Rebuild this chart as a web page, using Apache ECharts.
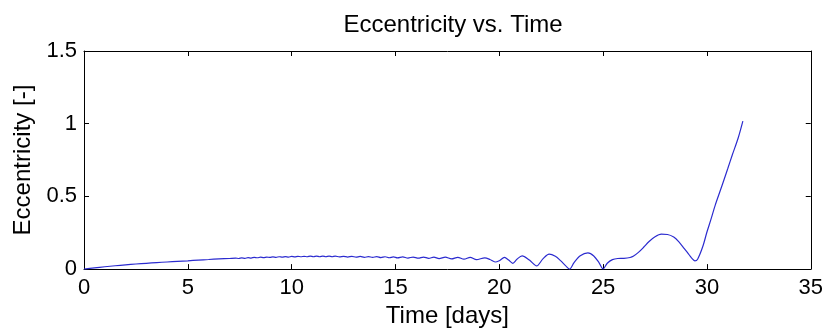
<!DOCTYPE html>
<html>
<head>
<meta charset="utf-8">
<script src="https://cdn.jsdelivr.net/npm/echarts@6/dist/echarts.min.js"></script>
<style>
  html, body { margin: 0; padding: 0; background: #fff; }
  #chart { width: 826px; height: 333px; }
</style>
</head>
<body>
<div id="chart"></div>
<script>
// values
const timeDays = [
  0, 0.5, 1, 1.5, 2, 2.5, 3, 3.5, 4, 4.5, 5, 5.5, 6, 6.5, 7,
  7.3, 7.45, 7.6, 7.75, 7.9, 8.05, 8.2, 8.35, 8.5, 8.65, 8.8, 8.95, 9.1, 9.25, 9.4, 9.55, 9.7, 9.85,
  10.0, 10.15, 10.3, 10.45, 10.6, 10.75, 10.9, 11.05, 11.2, 11.35, 11.5, 11.65, 11.8, 11.95,
  12.1, 12.3, 12.5, 12.7, 12.9, 13.1, 13.3, 13.5, 13.7, 13.9, 14.1, 14.3, 14.5, 14.7, 14.9,
  15.1, 15.35, 15.6, 15.85, 16.1, 16.35, 16.6, 16.85, 17.1, 17.4, 17.7, 18.0, 18.3, 18.6, 18.9,
  19.3, 19.55, 19.8, 20.0, 20.25, 20.45, 20.65, 20.85, 21.1, 21.45, 21.8, 22.1, 22.4, 22.7, 22.95,
  23.2, 23.38, 23.6, 23.9, 24.27, 24.55, 24.8, 25.0, 25.2, 25.45, 25.7, 26.0, 26.3, 26.45, 26.7,
  26.95, 27.2, 27.5, 27.8, 28.1, 28.4, 28.65, 28.9, 29.15, 29.3, 29.42, 29.55, 29.8, 30.0, 30.2,
  30.4, 30.74, 31.0, 31.22, 31.5, 31.73
];
const eccentricity = [
  0, 0.008, 0.016, 0.023, 0.029, 0.035, 0.040, 0.045, 0.049, 0.053, 0.057, 0.062, 0.066, 0.070, 0.073,
  0.076, 0.073, 0.077, 0.074, 0.079, 0.076, 0.081, 0.078, 0.082, 0.079, 0.083, 0.080, 0.084, 0.081, 0.085, 0.082, 0.086, 0.083,
  0.087, 0.084, 0.088, 0.085, 0.088, 0.085, 0.089, 0.085, 0.089, 0.085, 0.089, 0.085, 0.089, 0.085,
  0.089, 0.084, 0.088, 0.083, 0.088, 0.082, 0.087, 0.081, 0.086, 0.080, 0.086, 0.079, 0.085, 0.078, 0.084,
  0.077, 0.084, 0.076, 0.083, 0.075, 0.083, 0.074, 0.082, 0.072, 0.082, 0.070, 0.081, 0.068, 0.081, 0.065,
  0.077, 0.066, 0.049, 0.058, 0.080, 0.062, 0.040, 0.068, 0.091, 0.062, 0.022, 0.070, 0.103, 0.088, 0.058,
  0.022, 0.0, 0.045, 0.092, 0.111, 0.090, 0.045, 0.002, 0.040, 0.065, 0.073, 0.074, 0.080, 0.088, 0.115,
  0.150, 0.188, 0.222, 0.240, 0.238, 0.220, 0.187, 0.143, 0.097, 0.070, 0.057, 0.068, 0.155, 0.255, 0.345,
  0.440, 0.580, 0.690, 0.785, 0.900, 1.018
];
const xTicks = { min: 0, max: 35, step: 5 };
const yTicks = { min: 0, max: 1.5, step: 0.5 };

const FONT = '"Liberation Sans", Arial, sans-serif';

const axisBase = {
  type: 'value',
  axisLine: { show: true, onZero: false, lineStyle: { color: '#000', width: 1 } },
  axisTick: { show: true, inside: true, length: 5, lineStyle: { color: '#000' } },
  splitLine: { show: false },
};

const chart = echarts.init(document.getElementById('chart'));
chart.setOption({
  backgroundColor: '#fff',
  animation: false,
  title: {
    text: 'Eccentricity vs. Time',
    left: 448,
    top: 8,
    textAlign: 'center',
    textStyle: { fontFamily: FONT, fontSize: 24, fontWeight: 'normal', color: '#000' },
  },
  grid: { left: 84, right: 14, top: 51, bottom: 62 },
  xAxis: [
    {
      ...axisBase,
      position: 'bottom',
      min: xTicks.min, max: xTicks.max, interval: xTicks.step,
      name: 'Time [days]',
      nameLocation: 'middle',
      nameGap: 32,
      nameTextStyle: { fontFamily: FONT, fontSize: 24, color: '#000' },
      axisLabel: { fontFamily: FONT, fontSize: 22, color: '#000', margin: 8 },
    },
    {
      ...axisBase,
      position: 'top',
      min: xTicks.min, max: xTicks.max, interval: xTicks.step,
      axisLabel: { show: false },
    },
  ],
  yAxis: [
    {
      ...axisBase,
      position: 'left',
      min: yTicks.min, max: yTicks.max, interval: yTicks.step,
      name: 'Eccentricity [-]',
      nameLocation: 'middle',
      nameGap: 46,
      nameTextStyle: { fontFamily: FONT, fontSize: 24, color: '#000' },
      axisLabel: { fontFamily: FONT, fontSize: 22, color: '#000', margin: 7 },
    },
    {
      ...axisBase,
      position: 'right',
      min: yTicks.min, max: yTicks.max, interval: yTicks.step,
      axisLabel: { show: false },
    },
  ],
  series: [
    {
      type: 'line',
      data: timeDays.map((t, i) => [t, eccentricity[i]]),
      showSymbol: false,
      smooth: 0.3,
      lineStyle: { color: '#2b2bcf', width: 1.2 },
    },
  ],
});
</script>
</body>
</html>
